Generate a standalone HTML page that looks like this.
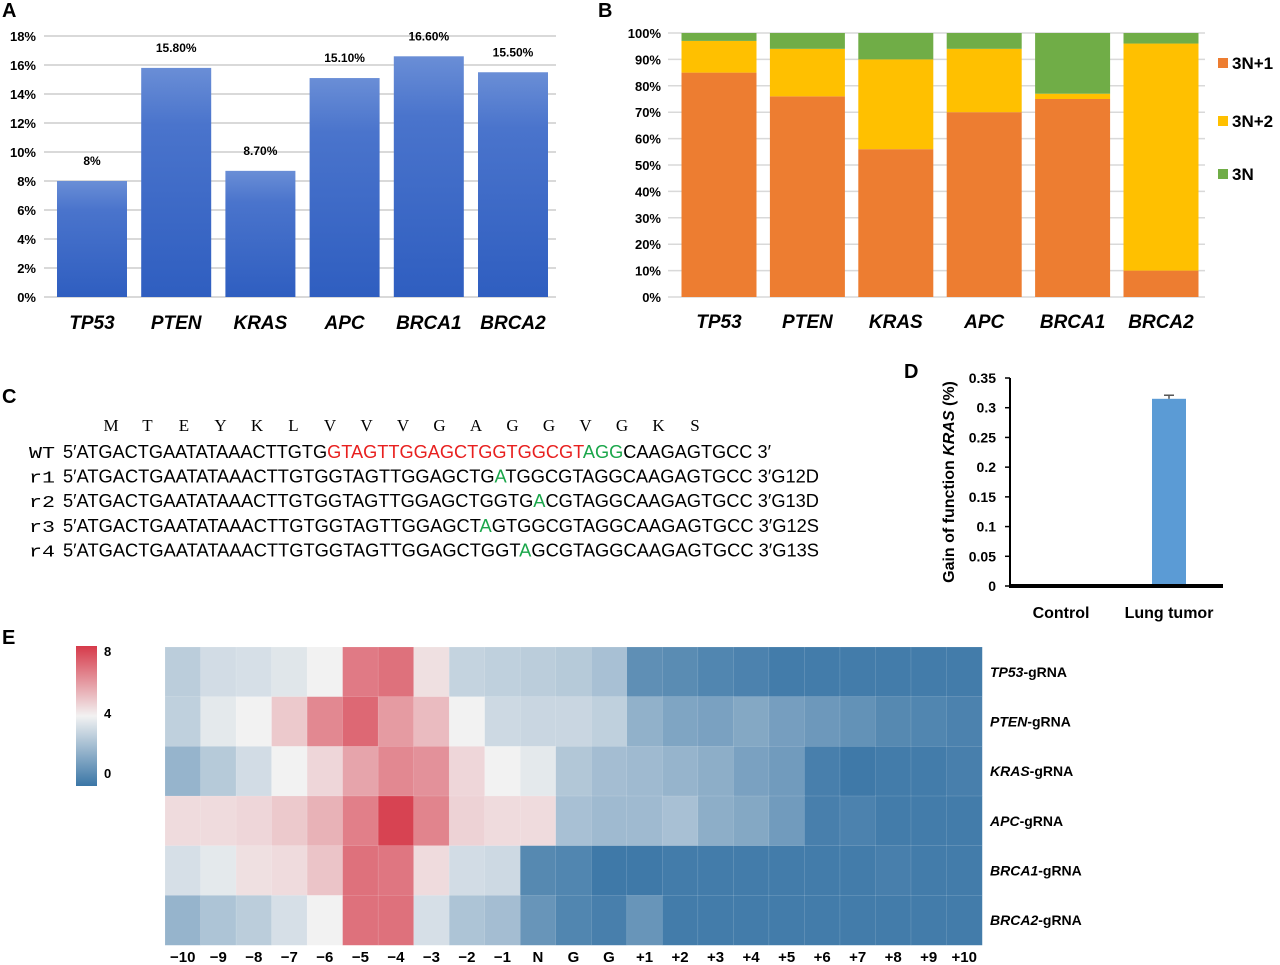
<!DOCTYPE html>
<html><head><meta charset="utf-8"><style>
body{margin:0;background:#fff;width:1280px;height:965px;overflow:hidden}
svg{display:block;font-family:"Liberation Sans",Arial,sans-serif}
</style></head><body>
<svg id="fig" width="1280" height="965" viewBox="0 0 1280 965">
<defs>
<linearGradient id="gA" x1="0" y1="0" x2="0" y2="1"><stop offset="0" stop-color="#6a8ed6"/><stop offset="0.25" stop-color="#4a74cc"/><stop offset="1" stop-color="#2f5ec0"/></linearGradient>
<linearGradient id="gCB" x1="0" y1="0" x2="0" y2="1"><stop offset="0" stop-color="#d63a4a"/><stop offset="0.5" stop-color="#f2f2f2"/><stop offset="1" stop-color="#3a76a6"/></linearGradient>
</defs>
<g id="pA"></g>
<g id="pB"></g>
<g id="pC"></g>
<g id="pD"></g>
<g id="pE"></g>
</svg>
<script>
// Panel A data
const aGenes=["TP53","PTEN","KRAS","APC","BRCA1","BRCA2"];
const aValues=[8,15.8,8.7,15.1,16.6,15.5];
const aLabels=["8%","15.80%","8.70%","15.10%","16.60%","15.50%"];
const aTicks=[0,2,4,6,8,10,12,14,16,18];
// Panel B data
const bGenes=["TP53","PTEN","KRAS","APC","BRCA1","BRCA2"];
const b3N1=[85,76,56,70,75,10];
const b3N2=[12,18,34,24,2,86];
const b3N=[3,6,10,6,23,4];
const bTicks=[0,10,20,30,40,50,60,70,80,90,100];
// Panel D data
const dCats=["Control","Lung tumor"];
const dValues=[0,0.315];
const dErr=[0,0.006];
const dTicks=["0","0.05","0.1","0.15","0.2","0.25","0.3","0.35"];
// Panel E data
const eCols=["\u221210","\u22129","\u22128","\u22127","\u22126","\u22125","\u22124","\u22123","\u22122","\u22121","N","G","G","+1","+2","+3","+4","+5","+6","+7","+8","+9","+10"];
const eRows=["TP53","PTEN","KRAS","APC","BRCA1","BRCA2"];
const eTP53=[2.8,3.3,3.4,3.6,4.0,6.6,6.8,4.4,3.0,2.9,2.8,2.7,2.4,0.8,0.7,0.5,0.4,0.2,0.2,0.2,0.2,0.2,0.2];
const ePTEN=[2.9,3.7,4.0,4.9,6.3,7.0,5.9,5.2,4.0,3.2,3.1,3.1,2.9,1.9,1.5,1.4,1.6,1.3,1.1,0.9,0.6,0.5,0.4];
const eKRAS=[2.0,2.7,3.3,4.0,4.6,5.7,6.3,6.1,4.6,4.0,3.7,2.6,2.3,2.2,2.0,1.8,1.4,1.2,0.3,0.1,0.2,0.2,0.3];
const eAPC=[4.5,4.5,4.6,4.9,5.4,6.5,7.8,6.4,4.7,4.5,4.5,2.4,2.2,2.2,2.4,1.8,1.6,1.2,0.3,0.4,0.2,0.2,0.2];
const eBRCA1=[3.4,3.7,4.4,4.5,5.0,6.8,6.7,4.5,3.3,3.2,0.6,0.5,0.1,0.1,0.2,0.2,0.2,0.2,0.2,0.2,0.3,0.2,0.2];
const eBRCA2=[2.0,2.5,2.8,3.4,4.0,6.8,6.8,3.4,2.5,2.3,1.0,0.5,0.3,1.0,0.2,0.2,0.2,0.2,0.2,0.2,0.2,0.2,0.2];
const eMatrix=[eTP53,ePTEN,eKRAS,eAPC,eBRCA1,eBRCA2];

const NS="http://www.w3.org/2000/svg";
function mk(parent,tag,attrs,text){const e=document.createElementNS(NS,tag);for(const k in attrs)e.setAttribute(k,attrs[k]);if(text!==undefined)e.textContent=text;parent.appendChild(e);return e;}

// ---------- Panel A ----------
(function(){
const g=document.getElementById('pA');
const y=v=>297-v*(297-36)/18;
const x=i=>92+i*84.2;
let t=mk(g,'text',{x:2,y:17,'font-size':20,'font-weight':'bold'},'A');

aTicks.forEach(v=>{
 let l=mk(g,'line',{x1:44,x2:556,y1:y(v),y2:y(v),stroke:'#d9d9d9','stroke-width':2});
 
 let tt=mk(g,'text',{x:36,y:y(v)+5,'font-size':13,'font-weight':'bold','text-anchor':'end'},v+'%');
 
});
aValues.forEach((v,i)=>{
 let r=mk(g,'rect',{x:x(i)-35,y:y(v),width:70,height:y(0)-y(v),fill:'url(#gA)'});
 
 let l=mk(g,'text',{x:x(i),y:y(v)-16,'font-size':12,'font-weight':'bold','text-anchor':'middle'},aLabels[i]);
 
 let c=mk(g,'text',{x:x(i),y:329,'font-size':19,'font-weight':'bold','font-style':'italic','text-anchor':'middle'},aGenes[i]);
 
});
})();

// ---------- Panel B ----------
(function(){
const g=document.getElementById('pB');
const y=v=>297-v*(297-33)/100;
const x=i=>719+i*88.4;
let t=mk(g,'text',{x:598,y:17,'font-size':20,'font-weight':'bold'},'B');

bTicks.forEach(v=>{
 let l=mk(g,'line',{x1:668,x2:1205,y1:y(v),y2:y(v),stroke:'#d9d9d9','stroke-width':1.5});
 
 let tt=mk(g,'text',{x:661,y:y(v)+5,'font-size':13,'font-weight':'bold','text-anchor':'end'},v+'%');
 
});
const cols=['#ed7d31','#ffc000','#70ad47'];
bGenes.forEach((gn,i)=>{
 let base=0;
 [b3N1[i],b3N2[i],b3N[i]].forEach((v,k)=>{
  let r=mk(g,'rect',{x:x(i)-37.5,y:y(base+v),width:75,height:y(base)-y(base+v),fill:cols[k]});
  
  base+=v;
 });
 let c=mk(g,'text',{x:x(i),y:328,'font-size':19,'font-weight':'bold','font-style':'italic','text-anchor':'middle'},gn);
 
});
const leg=[['3N+1',63],['3N+2',121],['3N',174]];
leg.forEach((L,k)=>{
 let s=mk(g,'rect',{x:1218,y:L[1]-5,width:10,height:10,fill:cols[k]});
 
 let tt=mk(g,'text',{x:1232,y:L[1]+6,'font-size':17,'font-weight':'bold'},L[0]);
 
});
})();

// ---------- Panel C ----------
(function(){
const g=document.getElementById('pC');
let t=mk(g,'text',{x:2,y:403,'font-size':20,'font-weight':'bold'},'C');

const aa="M T E Y K L V V V G A G G V G K S".split(' ');
aa.forEach((a,i)=>{
 let e=mk(g,'text',{x:111+i*36.5,y:431,'font-size':17,'font-family':'Liberation Serif, serif','text-anchor':'middle'},a);
 
});
const rows=[
 ['WT',[['5\u2032ATGACTGAATATAAACTTGTG','#000'],['GTAGTTGGAGCTGGTGGCGT','#e8201f'],['AGG','#1aa64a'],['CAAGAGTGCC','#000']],' 3\u2032'],
 ['r1',[['5\u2032ATGACTGAATATAAACTTGTGGTAGTTGGAGCTG','#000'],['A','#1aa64a'],['TGGCGTAGGCAAGAGTGCC','#000']],' 3\u2032G12D'],
 ['r2',[['5\u2032ATGACTGAATATAAACTTGTGGTAGTTGGAGCTGGTG','#000'],['A','#1aa64a'],['CGTAGGCAAGAGTGCC','#000']],' 3\u2032G13D'],
 ['r3',[['5\u2032ATGACTGAATATAAACTTGTGGTAGTTGGAGCT','#000'],['A','#1aa64a'],['GTGGCGTAGGCAAGAGTGCC','#000']],' 3\u2032G12S'],
 ['r4',[['5\u2032ATGACTGAATATAAACTTGTGGTAGTTGGAGCTGGT','#000'],['A','#1aa64a'],['GCGTAGGCAAGAGTGCC','#000']],' 3\u2032G13S']];
const cw=12.0;
rows.forEach((r,j)=>{
 const yy=458+j*24.6;
 let lb=mk(g,'text',{x:29,y:yy,'font-size':17,'font-family':'Liberation Mono, monospace',textLength:26,lengthAdjust:'spacingAndGlyphs'},r[0]);
 
 const tx=mk(g,'text',{x:63,y:yy,'font-size':18,'font-family':'Liberation Sans Narrow, Liberation Sans, sans-serif'});
 
 const all=r[1].map(p=>p[0]).join('')+r[2];
 r[1].concat([[r[2],'#000']]).forEach(p=>{mk(tx,'tspan',{fill:p[1]},p[0]);});
 tx.setAttribute('textLength',(all.length*cw).toFixed(1));
 tx.setAttribute('lengthAdjust','spacingAndGlyphs');
});
})();

// ---------- Panel D ----------
(function(){
const g=document.getElementById('pD');
const y=v=>586-v*(586-378)/0.35;
const x=i=>1061+i*108;
let t=mk(g,'text',{x:904,y:378,'font-size':20,'font-weight':'bold'},'D');

let ax=mk(g,'line',{x1:1010,x2:1010,y1:378,y2:587,stroke:'#000','stroke-width':2});

dTicks.forEach(v=>{
 const yy=y(parseFloat(v));
 mk(g,'line',{x1:1005,x2:1010,y1:yy,y2:yy,stroke:'#000','stroke-width':1.5});
 let tt=mk(g,'text',{x:996,y:yy+5,'font-size':14,'font-weight':'bold','text-anchor':'end'},v);
 
});
dValues.forEach((v,i)=>{
 let r=mk(g,'rect',{x:x(i)-17,y:y(v),width:34,height:y(0)-y(v),fill:'#5b9bd5'});
 
 if(dErr[i]>0){
  mk(g,'line',{x1:x(i),x2:x(i),y1:y(v),y2:y(v+dErr[i]),stroke:'#555','stroke-width':1.5});
  mk(g,'line',{x1:x(i)-5,x2:x(i)+5,y1:y(v+dErr[i]),y2:y(v+dErr[i]),stroke:'#555','stroke-width':1.5});
 }
 let c=mk(g,'text',{x:x(i),y:618,'font-size':16,'font-weight':'bold','text-anchor':'middle'},dCats[i]);
 
});
let bl=mk(g,'line',{x1:1009,x2:1223,y1:586,y2:586,stroke:'#000','stroke-width':4});

let yl=mk(g,'text',{transform:'translate(954,482) rotate(-90)','font-size':16,'font-weight':'bold','text-anchor':'middle'});

mk(yl,'tspan',{},'Gain of function ');mk(yl,'tspan',{'font-style':'italic'},'KRAS');mk(yl,'tspan',{},' (%)');
})();

// ---------- Panel E ----------
(function(){
const g=document.getElementById('pE');
let t=mk(g,'text',{x:2,y:644,'font-size':20,'font-weight':'bold'},'E');

const x0=165,y0=647,cw=(982-165)/23,rh=(945-647)/6;
const red=[214,58,74],wh=[242,242,242],bl=[58,118,166];
function col(v){let a,b,f;if(v>=4){a=wh;b=red;f=(v-4)/4;}else{a=bl;b=wh;f=v/4;}f=Math.max(0,Math.min(1,f));
 return 'rgb('+a.map((c,k)=>Math.round(c+(b[k]-c)*f)).join(',')+')';}
eMatrix.forEach((row,r)=>{
 row.forEach((v,c)=>{
  let rc=mk(g,'rect',{x:x0+c*cw,y:y0+r*rh,width:cw+0.3,height:rh+0.3,fill:col(v),stroke:'rgba(255,255,255,0.25)','stroke-width':0.5});
  
 });
 let lb=mk(g,'text',{x:990,y:y0+r*rh+rh/2+5,'font-size':14,'font-weight':'bold'});
 
 mk(lb,'tspan',{'font-style':'italic'},eRows[r]);mk(lb,'tspan',{},'-gRNA');
});
eCols.forEach((c,i)=>{
 let tt=mk(g,'text',{x:x0+i*cw+cw/2,y:962,'font-size':15,'font-weight':'bold','text-anchor':'middle'},c);
 
});
let cb=mk(g,'rect',{x:76,y:646,width:21,height:140,fill:'url(#gCB)'});

[['8',656],['4',718],['0',778]].forEach(p=>{
 let tt=mk(g,'text',{x:104,y:p[1],'font-size':13,'font-weight':'bold'},p[0]);
 
});
})();
</script>
</body></html>
